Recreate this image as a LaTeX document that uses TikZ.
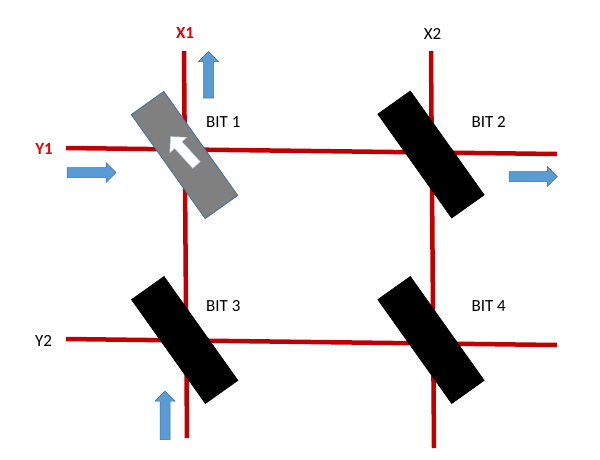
\documentclass[tikz,border=0pt]{standalone}
\usepackage{fontspec}
\setmainfont{Carlito}
\definecolor{wire}{RGB}{192,0,0}
\definecolor{lab}{RGB}{230,0,0}
\definecolor{flow}{RGB}{91,155,213}
\definecolor{flowedge}{RGB}{65,113,156}
\definecolor{bitgray}{RGB}{128,128,128}
\begin{document}
\begin{tikzpicture}[x=1pt,y=-1pt,
  wireline/.style={draw=wire,line width=4.5pt},
  bitbox/.style={rectangle,minimum width=127.6pt,minimum height=40pt,rotate=-54.6,inner sep=0pt,fill=black,draw=black,line width=0.5pt},
  graybox/.style={bitbox,fill=bitgray,draw=flowedge,line width=0.8pt},
  txt/.style={inner sep=0pt,font=\fontsize{17}{20}\selectfont},
  redtxt/.style={txt,text=lab,font=\fontsize{17}{20}\selectfont\bfseries},
  pics/flowarr/.style={code={
    \fill[flow,draw=flowedge,line width=0.5pt] (0,-5) -- (#1-10,-5) -- (#1-10,-10) -- (#1,0) -- (#1-10,10) -- (#1-10,5) -- (0,5) -- cycle;}},
  pics/whitearr/.style={code={
    \fill[white,draw=flowedge!40,line width=0.4pt] (0,-5) -- (#1-11.5,-5) -- (#1-11.5,-11.5) -- (#1,0) -- (#1-11.5,11.5) -- (#1-11.5,5) -- (0,5) -- cycle;}}
]
\useasboundingbox (0,0) rectangle (600,459);
\fill[white] (0,0) rectangle (600,459);
% line end points
\coordinate (x1t) at (184,51);
\coordinate (x1b) at (187,438);
\coordinate (x2t) at (431,51);
\coordinate (x2b) at (434,448);
\coordinate (y1l) at (66,148);
\coordinate (y1r) at (557,154);
\coordinate (y2l) at (66,339);
\coordinate (y2r) at (557,345);
\draw[wireline] (x1t) -- (x1b);
\draw[wireline] (x2t) -- (x2b);
\draw[wireline] (y1l) -- (y1r);
\draw[wireline] (y2l) -- (y2r);
% bits
\node[graybox] (b1) at (184.5,155) {};
\node[bitbox] (b2) at (431,154.5) {};
\node[bitbox] (b3) at (184.7,340) {};
\node[bitbox] (b4) at (431,340) {};
\pic[rotate=132.4] at (196.5,165) {whitearr={38.5}};
% flow arrows
\pic[rotate=90] at (208.5,98) {flowarr={46.5}};
\pic at (67,172.5) {flowarr={49}};
\pic at (509,176.5) {flowarr={48.3}};
\pic[rotate=90] at (165,439.5) {flowarr={48.5}};
% labels
\node[redtxt] (lx1) at (185,32.7) {X1};
\node[txt] (lx2) at (432.5,34) {X2};
\node[redtxt] (ly1) at (44,149) {Y1};
\node[txt] (ly2) at (43.5,341) {Y2};
\node[txt] (t1) at (223.3,121.7) {BIT 1};
\node[txt] (t2) at (488.7,121.7) {BIT 2};
\node[txt] (t3) at (223.3,306) {BIT 3};
\node[txt] (t4) at (488.7,306) {BIT 4};
\end{tikzpicture}
\end{document}
